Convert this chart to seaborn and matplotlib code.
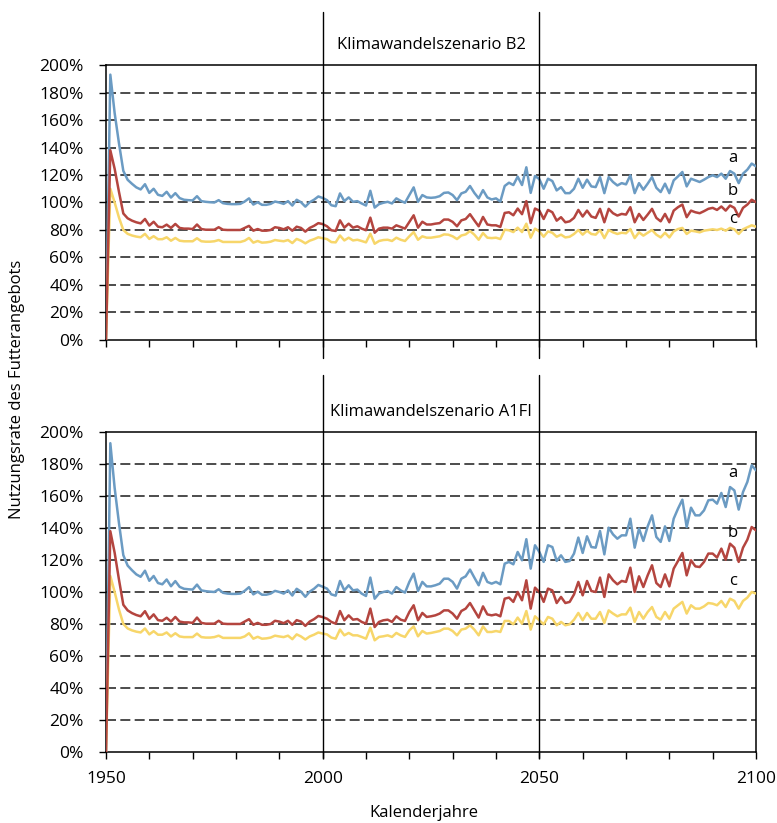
import numpy as np
import pandas as pd
import matplotlib
matplotlib.use("Agg")
import matplotlib.pyplot as plt
import seaborn as sns
from matplotlib.ticker import MultipleLocator, FixedLocator, FuncFormatter

# Jahre 1950-2100
years = np.arange(1950, 2101)

# gemeinsame Vergangenheit 1950-2000 (a = blau, b = rot, c = gelb)
a_hist = [0, 193, 165, 143, 123, 116.5, 113.6, 111, 109.5, 113.3,
          107, 110, 105.6, 104.8, 107.8, 103.6, 106.8, 103.2, 102, 101.7,
          101.5, 104.6, 101, 100.5, 100.2, 100, 101.7, 99.5, 99, 98.8,
          98.8, 99, 100.7, 103, 98.5, 100.2, 98.3, 98.3, 99, 100.7,
          100, 99, 101, 97.8, 102, 100.2, 97, 100.2, 102, 104.4,
          103.3]
b_hist = [0, 138, 124.5, 107.7, 92, 88.5, 86.8, 85.6, 84.8, 88,
          83.2, 86, 82.4, 82, 83.9, 81.5, 84.4, 81.5, 81, 81,
          80.7, 84, 80.7, 80.2, 80.2, 80.2, 82, 80.2, 80, 80,
          80, 80, 81.5, 83, 79.5, 80.7, 79.5, 79.5, 80, 82,
          81.5, 80.5, 82, 79.5, 82.4, 81.5, 78.8, 81.5, 83, 85,
          84.3]
c_hist = [0, 110, 100, 89, 80, 77.2, 76, 75.2, 74.7, 77.2,
          73.5, 75.5, 73.3, 73.3, 74.7, 72.2, 74.2, 72.2, 71.8, 71.8,
          71.8, 74, 71.8, 71.5, 71.5, 71.8, 72.7, 71.3, 71.3, 71.3,
          71.3, 71.3, 72.2, 74.2, 70.8, 72, 70.8, 71, 71.5, 72.7,
          72.2, 71.8, 72.7, 70.5, 73.5, 72.2, 70.3, 72.2, 73.3, 74.7,
          74]

# Szenario B2, 2001-2100
a_b2 = [101.7, 98, 97.3, 106.6, 101, 103.7, 100.5, 101, 99.3, 97.8,
        108.5, 96.3, 98.8, 99.8, 100.5, 99.3, 103, 101.2, 99.8, 105.4,
        111, 100.5, 105.4, 103.7, 103.4, 103.7, 104.6, 107, 107.3, 105.4,
        101.7, 106.6, 107.8, 112, 107, 103, 109, 103.7, 102.2, 103,
        100.7, 112, 114.4, 112.7, 118.8, 112.7, 125.6, 107, 119.3, 117,
        110, 117.3, 115.6, 108.8, 111.2, 106.8, 106.8, 110, 117.3, 110.7,
        116.6, 111.7, 111.2, 118.5, 106.8, 118.5, 114.9, 112.4, 114.1, 113.2,
        119.8, 106.8, 114.1, 109.3, 113.7, 118.5, 110.7, 107.6, 113.7, 106.8,
        116.1, 119, 122.2, 111.7, 117.3, 116.1, 114.9, 116.6, 118.5, 119.8,
        118.5, 121, 117.3, 122.9, 121, 114.1, 121, 123.9, 128.3, 126.3]
b_b2 = [82.7, 79.8, 79.3, 87, 81.7, 84.6, 81.7, 82.7, 81, 79.8,
        89, 78, 81, 81.7, 81.7, 81, 83.4, 82.2, 81, 85.9,
        90.7, 81.7, 86, 84, 84, 84.6, 85, 87.6, 87.6, 85.9,
        82.7, 87, 88, 91.5, 87, 82.7, 89.5, 84, 83.4, 83.4,
        82.2, 92.4, 92.9, 90.7, 95.6, 91.5, 101, 85, 95.6, 94.1,
        88, 94.6, 92.9, 86.8, 89.3, 85.6, 86.3, 88.8, 94.6, 89.8,
        94.1, 89.8, 88.8, 95.4, 85.6, 95.4, 92.2, 90.5, 91.7, 91.2,
        96.6, 85.6, 91.7, 87.3, 91.2, 95.4, 88.8, 86.3, 91.7, 85.6,
        94.1, 96.6, 98.5, 89.3, 94.1, 92.9, 92.2, 93.7, 95.4, 96.1,
        94.6, 97.1, 94.1, 97.8, 96.1, 89.8, 96.1, 98.5, 102, 100.2]
c_b2 = [73.4, 71.2, 71, 76, 72.4, 74.4, 72.4, 72.9, 72, 71,
        77.3, 70, 72, 72.7, 72.9, 72, 74.4, 72.9, 72, 75.4,
        78.5, 72.9, 75.4, 74.4, 74.4, 74.9, 75.4, 76.8, 76.6, 75.4,
        73.4, 76, 76.8, 79.3, 76.6, 72.9, 77.8, 74.4, 74.1, 74.4,
        73.4, 80.2, 79.8, 78.5, 81.7, 78.5, 84.6, 74.4, 81, 79,
        75.1, 79, 78, 75.1, 76.6, 74.6, 75.1, 77.1, 80, 76.6,
        79.5, 77.1, 76.6, 80, 74.1, 80, 78.3, 77.1, 78, 77.6,
        80.7, 74.1, 78.3, 75.9, 78, 80, 76.6, 74.6, 78, 74.6,
        79, 80.7, 81.5, 77.1, 79.5, 79, 78.3, 79.5, 80, 80.5,
        80, 81, 79.5, 81.5, 80.5, 77.1, 80.5, 82, 83.4, 82.4]

# Szenario A1FI, 2001-2100
a_a1 = [102.1, 98.5, 97.7, 106.9, 101, 104.2, 101, 101.5, 99, 97.5,
        109, 95.8, 99, 100, 100.6, 99, 103.1, 101, 99.6, 106.3,
        111.5, 100.6, 106.3, 103.5, 103.5, 104.2, 105.2, 108.3, 108.3, 106.3,
        102.1, 108.3, 109.8, 114, 109, 104.2, 112, 106.3, 105.2, 106.3,
        104.8, 117.7, 118.8, 117.3, 125, 119.8, 133, 114.6, 129.2, 125,
        118.8, 129.2, 128.1, 119.4, 122.9, 118.8, 119.4, 124, 134, 124.4,
        134.8, 128.1, 127.7, 138.1, 123.5, 140.2, 136, 133.3, 135.4, 135.4,
        145.8, 127.7, 139.6, 131.9, 141, 147.9, 134.4, 131.3, 141, 131.9,
        145.8, 152.1, 157.7, 140.6, 152.7, 147.9, 147.9, 151, 157.3, 157.7,
        155.2, 161.9, 153.1, 165.6, 163.5, 151.5, 162.5, 168.8, 179.2, 176]
b_a1 = [83.3, 81.3, 80.2, 88.1, 82.3, 85.4, 82.7, 83.1, 81.3, 80.2,
        89.6, 78.1, 81.3, 82.3, 82.7, 81.3, 84.8, 82.7, 81.9, 87.5,
        91.7, 82.3, 86.9, 84.4, 84.8, 85.4, 86.5, 88.5, 88.5, 86.5,
        83.3, 88.1, 89.6, 93.1, 88.5, 84, 91, 86, 85.4, 86,
        84.8, 95.8, 96.5, 93.8, 100, 94.8, 107.3, 89.6, 102.7, 100,
        93.8, 102.1, 101, 93.1, 96.9, 93.1, 93.8, 98.5, 106.3, 97.9,
        106.9, 100.6, 100, 109, 96.9, 111, 107.3, 104.8, 106.9, 106.3,
        115.2, 100, 109.8, 103.1, 110.4, 116.7, 105.6, 103.1, 111, 103.5,
        114.6, 119.4, 124.4, 110.4, 119.8, 116, 115.6, 118.8, 124, 124,
        121.5, 127.1, 120.2, 130.2, 127.7, 118.8, 127.7, 132.7, 140.6, 138.5]
c_a1 = [73.5, 71.5, 70.8, 76.5, 72.9, 74.4, 72.9, 72.9, 71.9, 70.8,
        77.7, 69.8, 71.9, 72.3, 72.9, 71.9, 74.4, 72.9, 71.9, 76,
        78.5, 72.3, 75.6, 74, 74.4, 75, 75.6, 77.1, 77.1, 75.6,
        72.9, 76.5, 77.1, 79.2, 76.5, 72.9, 78.5, 75, 75, 75.6,
        75, 81.9, 81.9, 79.8, 84, 80.2, 88.1, 76.5, 84.8, 82.3,
        79.8, 84.4, 83.3, 79.2, 81.3, 79.2, 79.8, 82.7, 86.9, 82.3,
        86.9, 83.3, 83.3, 87.5, 80.6, 88.5, 86.5, 84.8, 86, 86,
        90.2, 81.3, 87.5, 83.3, 87.5, 90.6, 84.4, 82.7, 87.5, 83.3,
        89.6, 91.7, 93.8, 86.5, 91.7, 89.6, 89.6, 91, 93.1, 92.7,
        91.7, 94.4, 90.6, 95.8, 94.4, 89.6, 94.4, 96.5, 100, 99]

colors = {"a": "#6b9bc3", "b": "#b4453f", "c": "#f7d66a"}
y_ticks = list(range(0, 201, 20))
x_major = [1950, 2000, 2050, 2100]


def make_frame(a, b, c):
    parts = []
    for name, vals in (("a", a), ("b", b), ("c", c)):
        parts.append(pd.DataFrame({"Jahr": years, "Wert": vals, "Reihe": name}))
    return pd.concat(parts, ignore_index=True)


def draw_panel(ax, df, title, title_y, labels_y, vspan):
    for g in y_ticks[1:-1]:
        ax.axhline(g, color="#2e2e2e", lw=1.2, ls=(0, (6.0, 2.6)), zorder=1)
    sns.lineplot(data=df, x="Jahr", y="Wert", hue="Reihe", hue_order=["a", "c", "b"],
                 palette=colors, linewidth=1.8, legend=False, ax=ax, zorder=3)
    ax.set_xlim(1950, 2100)
    ax.set_ylim(0, 200)
    ax.set_xlabel("")
    ax.set_ylabel("")
    ax.yaxis.set_major_locator(FixedLocator(y_ticks))
    ax.yaxis.set_major_formatter(FuncFormatter(lambda v, p: f"{v:.0f}%"))
    ax.xaxis.set_major_locator(FixedLocator(x_major))
    ax.xaxis.set_minor_locator(MultipleLocator(10))
    ax.tick_params(axis="both", which="both", direction="out", color="black",
                   width=1.0, bottom=True, left=True, labelsize=12.5, labelcolor="black")
    ax.tick_params(axis="y", length=5, pad=11)
    ax.tick_params(axis="x", which="both", length=5, pad=9)
    for sp in ax.spines.values():
        sp.set_color("black")
        sp.set_linewidth(1.1)
        sp.set_visible(True)
    for yr in (2000, 2050):
        ax.axvline(yr, ymin=vspan[0], ymax=vspan[1], color="black", lw=1.0,
                   clip_on=False, zorder=4)
    ax.text(2025, title_y, title, ha="center", va="center", fontsize=12, clip_on=False)
    for name, yv in zip(("a", "b", "c"), labels_y):
        ax.text(2094.7, yv, name, ha="center", va="center", fontsize=12)


sns.set_theme(style="white")
plt.rcParams["font.family"] = ["Open Sans", "DejaVu Sans"]
plt.rcParams["text.color"] = "black"

fig = plt.figure(figsize=(7.77, 8.23), dpi=100)
ax_top = fig.add_axes([0.1364, 0.5869, 0.8366, 0.3341])
ax_bot = fig.add_axes([0.1364, 0.0863, 0.8366, 0.3888])

df_b2 = make_frame(a_hist + a_b2, b_hist + b_b2, c_hist + c_b2)
df_a1 = make_frame(a_hist + a_a1, b_hist + b_a1, c_hist + c_a1)

draw_panel(ax_top, df_b2, "Klimawandelszenario B2", 214.5, (132.4, 108.4, 88.0), (-0.065, 1.193))
draw_panel(ax_bot, df_a1, "Klimawandelszenario A1FI", 212.5, (174.4, 136.9, 106.9), (-0.019, 1.178))
ax_top.tick_params(labelbottom=False)

fig.text(0.022, 1 - 389 / 823, "Nutzungsrate des Futterangebots", rotation=90,
         ha="center", va="center", fontsize=12)
fig.text(424 / 777, 1 - 813 / 823, "Kalenderjahre", ha="center", va="center", fontsize=12)

fig.savefig("out.png", dpi=100)
